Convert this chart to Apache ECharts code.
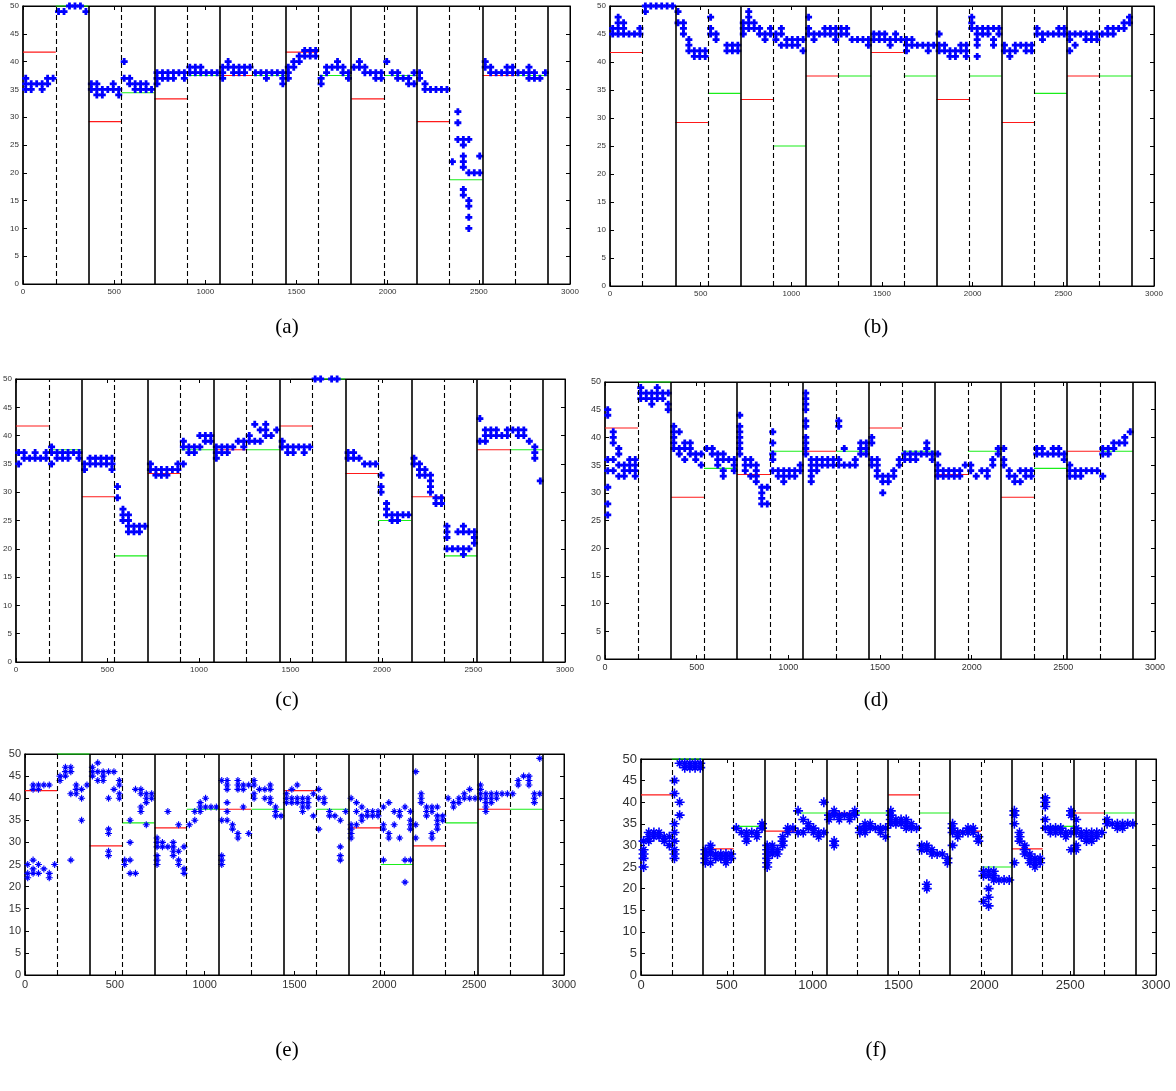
<!DOCTYPE html>
<html><head><meta charset="utf-8">
<script src="https://cdn.jsdelivr.net/npm/echarts@6/dist/echarts.min.js"></script>
<style>html,body{margin:0;padding:0;background:#fff}#c{width:1176px;height:1091px}</style>
</head><body><div id="c"></div>
<script>
// ---------- DATA ----------
const X_STEP = 30; // sampling step of the blue measurements (each slot = 30 units)
const boundaries = [180,360,540,720,900,1080,1260,1440,1620,1800,1980,2160,2340,2520,2700,2880];
const redLevels = [41.7, 29.2, 33.3, 37.5, 41.7, 33.3, 29.2, 37.5];   // on [k*360, k*360+180]
const greenA = [50, 34.4, 37.5, 37.5, 37.5, 37.5, 18.75, 37.5];      // on [k*360+180, k*360+360]
const greenB = [50, 34.4, 25, 37.5, 37.5, 37.5, 34.4, 37.5];
const greenC = [37.5, 18.75, 37.5, 37.5, 50, 25, 18.75, 37.5];
const greenD = [50, 34.4, 37.5, 37.5, 37.5, 37.5, 34.4, 37.5];
const greenE = [50, 34.4, 37.5, 37.5, 37.5, 25, 34.4, 37.5];
const greenF = [50, 34.4, 37.5, 37.5, 37.5, 25, 34.4, 37.5];
const captions = ['(a)','(b)','(c)','(d)','(e)','(f)'];

const panelA = [
 [35,36,37],[35,36],[36],[36,35],[37,36],[37],
 [49],[49],[50],[50],[50],[49],
 [35,36],[35,36,34],[35,34],[35],[35,36],[35,34],
 [40,37],[37,36],[36,35],[36,35],[36,35],[35],
 [37,38,36],[38,37],[38,37],[38,37],[38],[38,37],
 [38,39],[39,38],[39,38],[38],[38],[38],
 [39,37,38],[39,40],[39,38],[39,38],[39,38],[39],
 [38],[38],[38,37],[38],[38],[38,37,36],
 [38,37,39],[39,40],[40,41],[41,42],[41,42],[41,42],
 [36,37],[38,39],[39],[39,40],[39,38],[38,37],
 [39],[39,40],[39,38],[38],[38,37],[38,37],
 [40],[38],[38,37],[37],[37,36],[36,38],
 [38,37],[36,35],[35],[35],[35],[35],
 [22],[31,29,26],[26,25,22,21,23,17,16],[26,15,14,10,12,20],[20],[23,20],
 [40,39],[39,38],[38],[38],[38,39],[38,39],
 [38],[38],[38,39,37],[38,37],[37],[38]
];
const panelB = [
 [46,45],[46,47,48,45],[46,47,45],[45],[45],[45,46],
 [50,49],[50],[50],[50],[50],[50],
 [49,47],[47,46,45],[44,43,42],[42,41],[42,41],[42,41],
 [48,46,45],[45,44],[],[43,42],[43,42],[43,42],
 [45,47,46],[49,48,47,46],[47,46],[46,45],[45,44],[46,45],
 [45,44],[46,45,43],[44,43],[44,43],[44,43],[44,42],
 [48,46,45],[45,44],[45],[45,46],[45,46],[45,44,46],
 [45,46],[46,45],[44],[44],[44],[44,43],
 [45,44],[45,44],[45,44],[44,43],[44,45],[44],
 [44,42,43],[44,43],[43],[43],[43,42],[43],
 [45,43,42],[42,43],[42,41],[42,41],[42,43],[42,41,43],
 [48,47,46],[46,45,44,43,41],[46,45],[46,45],[46,44,43],[46,45],
 [43,42],[42,41],[43,42],[43],[43,42],[42,43],
 [46,45],[45,44],[45],[45],[45,46],[45,46],
 [45,44,42],[45,43],[45],[45,44],[45,44],[45,44],
 [45],[45,46],[45,46],[46],[46,47],[47,48]
];
const panelC = [
 [37,35],[37,36],[36],[36,37],[36],[36,37],
 [38,37,35],[37,36],[37,36],[37,36],[37],[37,36],
 [35,34],[35,36],[35,36],[35,36],[35,36],[36,35,34],
 [31,29],[27,26,25],[26,25,24,23],[24,23],[24,23],[24],
 [35,34],[34,33],[34,33],[34,33],[34],[34,35],
 [35,38,39],[38,37],[38,37],[40,38],[40,39],[40,39],
 [38,37,36],[38,37],[38,37],[38],[39],[39,38],
 [40,39],[42,39],[41,39],[41,42,40],[40],[41],
 [39,38],[38,37],[38,37],[38],[38,37],[38],
 [50],[50],[],[50],[50],[],
 [37,36],[37,36],[36],[35],[35],[35],
 [33,31,30],[28,27,26],[26,25],[26,25],[26],[26],
 [36,35],[35,34,33],[34,33],[33,32,30,31],[29,28],[29,28],
 [24,23,22,20],[20],[20,23],[24,23,20,19],[20,23],[22,21,23],
 [43,39],[40,39,41],[40,41],[40,41],[40],[40,41],
 [41],[41,40],[41,40],[39],[38,37,36],[32]
];
const panelD = [
 [31,36,34,45,44,28,26],[41,40,39,36,34],[37,38,35,33],[35,33,34],[34,35,36],[34,35,36,33],
 [49,48,47],[48,47],[48,46,47],[48,47,49],[48,47],[48,46,45],
 [38,42,41,40,39],[41,37,38],[38,36,39],[39,38,37],[37,36],[37,35],
 [38],[38,37],[37,36,35],[37,36,34,33],[36],[36,34,35],
 [44,42,41,40,39,38,37],[36,35,34],[36,33,35],[35,34,33,32],[31,30,29,28],[28,31],
 [41,39,37,36,34],[33,34],[33,34,32],[34,33],[34,33],[34,35],
 [48,47,46,45,43,42,40,39,38,37],[36,35,34,33,32],[36,35,34],[35,36],[35,36],[35,36],
 [43,42,36,35],[38,35],[35],[36,35],[37,39,38],[38,39,37],
 [40,39,36,35],[36,35,34,33],[32,33,30],[32,33],[34,33],[35,36],
 [36,37],[37,36],[36,37],[37],[38,39,37],[37,36],
 [37,35,34,33],[34,33],[34,33],[34,33],[34,33],[35],
 [35,34],[33],[34],[34,33],[35,36],[37,38],
 [38,36,35],[34,33],[33,32],[32,34],[33,34],[34,33],
 [38,37],[38,37],[37],[37,38],[37,38],[37,36],
 [35,34,33],[34,33],[34,33],[34],[34],[34],
 [33,37,38],[37,38],[38,39],[39],[39,40],[41]
];
const panelE = [
 [25,22,23],[23,24,26,42,43],[43,42,23,25],[24,43],[22,23,43],[25],
 [45,44],[47,46,45],[47,46,26,41],[43,42,41],[40,35,42],[43],
 [45,47,46],[48,46,44],[46,45,44],[40,33,32,27,28,46],[46,42],[44,43,41,40],
 [26,25],[26,23,35,30],[42,23],[42,41,37,38],[41,40,39,34],[41,40],
 [31,30,29,27,26,25],[30,29],[29,37],[29,28,27,30],[28,26,25,34],[24,23,29],
 [34],[35,37],[37,38,39],[38,40],[38],[38],
 [35,27,26,25,44],[35,44,43,39,37,42],[34,33],[44,43,42,31,32],[43,42,38],[43,32],
 [44,43,41,40],[42],[42,40],[42,40,43,39],[38,37,36],[36],
 [40,39,41],[40,42,39],[43,40,39],[40,39,38,37],[40,38,39],[36,41],
 [42,33,40],[40,39],[37,36],[36],[29,27,26,35],[37],
 [40,34,33,32,31],[39,37,34],[38,36,35],[37,36],[37,36],[36,37],
 [26,34,33,38],[39,31,32],[34,37],[37,36,31],[26,21,38],[37,34,33,26,35],
 [46,34,31],[41,40,39],[38,37,36],[38,37,32,31],[38,36,35,34,33],[36,35],
 [40],[39,38],[39,40],[41,40],[42,40],[40],
 [43,42,41,40],[41,40,39,38,37],[41,40,39],[41,40],[41],[41],
 [41],[43,44],[45],[45,44,43],[41,40,39],[41,49]
];
const panelF = [
 [25,27,28,29,31],[31,32,33],[33,32],[32,33],[32,31],[32,30],
 [45,42,35,31,29,28,27,33],[40,37,49],[49,48],[49,48],[49,48],[49,48],
 [27,29,28,26],[26,28,30,29],[28,27],[28,27],[28,26,27],[27,28],
 [34],[33],[33,32,31],[33],[33,32],[34,35],
 [25,26,27,28,29,30],[29,28,30],[28,29],[31,30,32],[33,34],[34],
 [38,33],[33,36],[35,34],[34,33],[33,32],[33,40],
 [37,36],[37,31,30,38],[37,36],[37],[37,36],[37,38],
 [34,33],[35,34,33],[35,34],[34],[34,33],[34,32],
 [38,37,36,35],[36,35],[36,35],[36,35,34],[34,35],[34],
 [30,29],[30,29,21,20],[29,28],[28],[28],[27,26],
 [35,34,33,30],[33,32],[33],[33,34],[33,34],[32,31],
 [24,23,17],[24,23,20,18,16],[24,22,23],[22],[22],[22],
 [38,37,35,26],[33,32,31],[30,29,28],[28,27,26],[27,26,25],[27,26],
 [41,40,39,36,34],[34,33],[33,34],[33,34],[33,32],[33,38,37,29],
 [36,34,33,30,29],[33,32],[33,32,31],[33,32,31],[33,32],[33],
 [36,35],[35],[35,34],[35,34],[35],[35]
];

// ---------- LAYOUT / STYLE ----------
const panels = [
 {slots: panelA, green: greenA, grid:{left:23, top:6, width:547, height:278}, font:8, sym:'plus', size:7, cap:[287,327]},
 {slots: panelB, green: greenB, grid:{left:610, top:6, width:544, height:280}, font:8, sym:'plus', size:7, cap:[876,327]},
 {slots: panelC, green: greenC, grid:{left:14, top:379, width:551, height:283}, font:8, sym:'plus', size:7, cap:[287,700]},
 {slots: panelD, green: greenD, grid:{left:605, top:382, width:550, height:277}, font:9, sym:'plus', size:7, cap:[876,700]},
 {slots: panelE, green: greenE, grid:{left:25, top:754, width:539, height:221}, font:11, sym:'star', size:7, cap:[287,1050]},
 {slots: panelF, green: greenF, grid:{left:641, top:759, width:515, height:216}, font:13, sym:'star', size:10, cap:[876,1050]}
];
const SYM = {
 plus: 'path://M3,0H7V3H10V7H7V10H3V7H0V3H3Z',
 star: 'path://M4.2,0H5.8V4.2H10V5.8H5.8V10H4.2V5.8H0V4.2H4.2Z M1.5,2.6L2.6,1.5L5,3.9L7.4,1.5L8.5,2.6L6.1,5L8.5,7.4L7.4,8.5L5,6.1L2.6,8.5L1.5,7.4L3.9,5Z'
};
const plain = v => String(v);

const grids = [], xAxes = [], yAxes = [], series = [], graphics = [];
panels.forEach((p, i) => {
  grids.push(Object.assign({show:true, borderColor:'#000', borderWidth:1, backgroundColor:'#fff'}, p.grid));
  const lbl = {color:'#333', fontSize:p.font, fontFamily:'Liberation Sans, Arial, sans-serif', margin:4, formatter:plain};
  xAxes.push({gridIndex:i, type:'value', min:0, max:3000, interval:500, position:'bottom',
    axisLine:{show:true, onZero:false, lineStyle:{color:'#000', width:1}},
    axisTick:{show:true, inside:true, length:4, lineStyle:{color:'#000'}},
    axisLabel:Object.assign({show:true}, lbl), splitLine:{show:false}});
  xAxes.push({gridIndex:i, type:'value', min:0, max:3000, interval:500, position:'top',
    axisLine:{show:true, onZero:false, lineStyle:{color:'#000'}},
    axisTick:{show:true, inside:true, length:4, lineStyle:{color:'#000'}},
    axisLabel:{show:false}, splitLine:{show:false}});
  yAxes.push({gridIndex:i, type:'value', min:0, max:50, interval:5, position:'left',
    axisLine:{show:true, onZero:false, lineStyle:{color:'#000', width:1.5}},
    axisTick:{show:true, inside:true, length:4, lineStyle:{color:'#000'}},
    axisLabel:Object.assign({show:true}, lbl), splitLine:{show:false}});
  yAxes.push({gridIndex:i, type:'value', min:0, max:50, interval:5, position:'right',
    axisLine:{show:true, onZero:false, lineStyle:{color:'#000'}},
    axisTick:{show:true, inside:true, length:4, lineStyle:{color:'#000'}},
    axisLabel:{show:false}, splitLine:{show:false}});

  const ax = {xAxisIndex:2*i, yAxisIndex:2*i};

  // vertical separators
  const ml = boundaries.map((b, k) => {
    const solid = (k % 2 === 1);
    return {xAxis:b, lineStyle:{color:'#000', type: solid ? 'solid' : [5,3], width: solid ? 1.6 : 1.1}};
  });
  series.push(Object.assign({type:'line', data:[], silent:true, z:1,
    markLine:{silent:true, symbol:['none','none'], label:{show:false}, animation:false, data:ml}}, ax));

  // red & green reference segments
  redLevels.forEach((v, k) => {
    series.push(Object.assign({type:'line', data:[[k*360, v], [k*360+180, v]], symbol:'none', silent:true, z:2,
      lineStyle:{color:'#ff1a1a', width:1.2}, clip:false}, ax));
  });
  p.green.forEach((v, k) => {
    series.push(Object.assign({type:'line', data:[[k*360+180, v], [k*360+360, v]], symbol:'none', silent:true, z:2,
      lineStyle:{color:'#1aee1a', width:1.2}, clip:false}, ax));
  });

  // blue measurements
  const pts = [];
  p.slots.forEach((vals, j) => { vals.forEach(v => pts.push([j*X_STEP + X_STEP/2, v])); });
  series.push(Object.assign({type:'scatter', data:pts, symbol:SYM[p.sym], symbolSize:p.size,
    itemStyle:{color:'#0000ff', opacity:1}, silent:true, z:3}, ax));

  graphics.push({type:'text', x:p.cap[0], y:p.cap[1],
    style:{text:captions[i], font:'21px "Liberation Serif", "DejaVu Serif", serif', fill:'#000',
           align:'center', verticalAlign:'middle', textAlign:'center', textVerticalAlign:'middle'}});
});

const chart = echarts.init(document.getElementById('c'), null, {renderer:'canvas'});
chart.setOption({animation:false, backgroundColor:'#fff', grid:grids, xAxis:xAxes, yAxis:yAxes, series:series, graphic:graphics});
</script></body></html>
